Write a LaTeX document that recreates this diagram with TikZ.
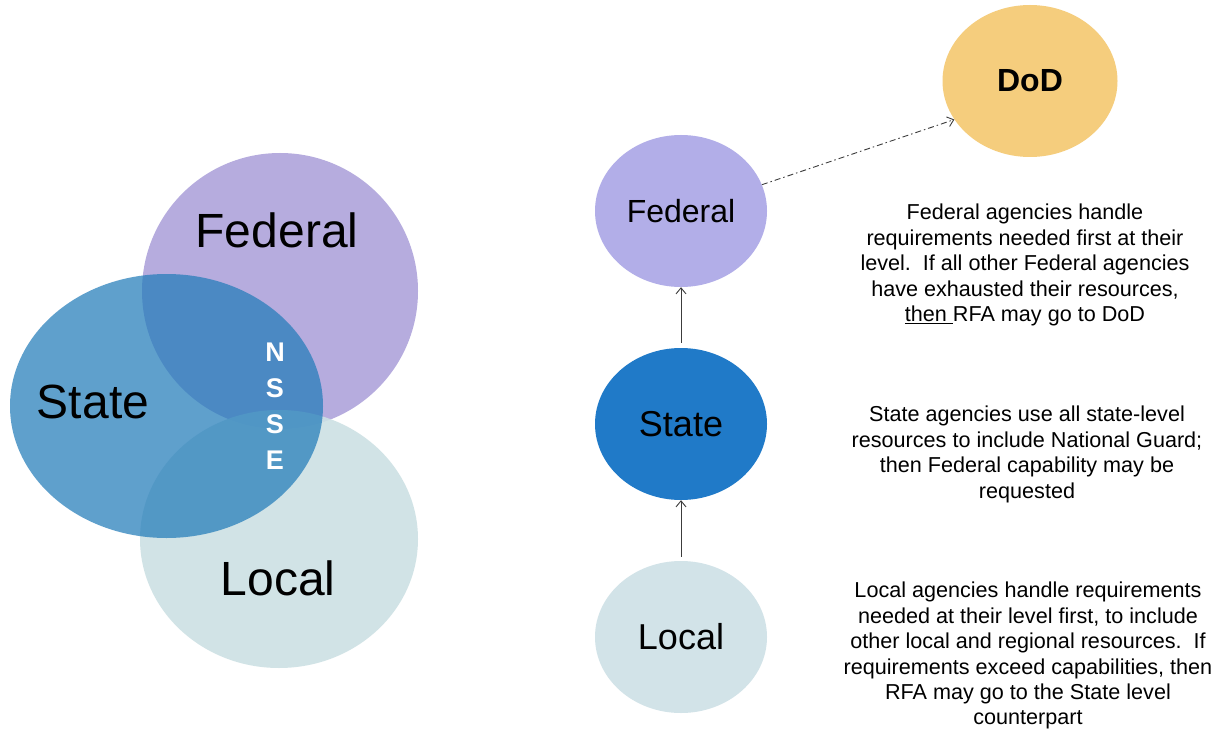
\documentclass[tikz,border=0pt]{standalone}
\usepackage{fontspec}
\setmainfont{Liberation Sans}
\usetikzlibrary{shapes.geometric,arrows.meta}
\definecolor{vfed}{RGB}{182,172,222}
\definecolor{vstate}{RGB}{36,125,186}
\definecolor{vlocal}{RGB}{205,225,228}
\definecolor{nfed}{RGB}{178,174,232}
\definecolor{nstate}{RGB}{32,122,200}
\definecolor{nlocal}{RGB}{210,227,232}
\definecolor{ndod}{RGB}{245,205,125}
\definecolor{arrowgray}{RGB}{60,60,60}
\tikzset{
  bubble/.style={ellipse, minimum width=172pt, minimum height=152pt, inner sep=0pt},
  venntext/.style={anchor=base, inner sep=0pt, font=\fontsize{48}{56}\selectfont},
  desc/.style={anchor=north, inner sep=0pt, align=center, font=\fontsize{21.6}{25.4}\selectfont},
  conn/.style={draw=arrowgray, line width=0.9pt, -{Straight Barb[length=6pt,width=10pt]}},
}
\begin{document}
\begin{tikzpicture}[x=1pt,y=-1pt]
\useasboundingbox (0,0) rectangle (1221,733);
\fill[white] (0,0) rectangle (1221,733);
% Venn diagram
\fill[vfed] (280,291) ellipse [x radius=138pt, y radius=138pt];
\fill[vlocal, opacity=0.9] (279,539) ellipse [x radius=139pt, y radius=129pt];
\fill[vstate, opacity=0.73] (166.5,406) ellipse [x radius=156.5pt, y radius=132pt];
\node[venntext] (vfedt) at (277,247) {Federal};
\node[venntext] (vstatet) at (93,418) {State};
\node[venntext] (vlocalt) at (278,595) {Local};
\node[inner sep=0pt, align=center, text=white, font=\bfseries\fontsize{27}{36}\selectfont] (nsse) at (275,406.4) {N\\S\\S\\E};
% Right-hand hierarchy
\node[bubble, fill=nfed, font=\fontsize{32}{38}\selectfont] (fed) at (681,211) {Federal};
\node[bubble, fill=nstate, font=\fontsize{36}{42}\selectfont] (state) at (681,424) {State};
\node[bubble, fill=nlocal, font=\fontsize{36}{42}\selectfont] (local) at (681,637) {Local};
\node[bubble, fill=ndod, minimum width=175pt, font=\bfseries\fontsize{32}{38}\selectfont] (dod) at (1030,81) {DoD};
\draw[conn, shorten <=5pt] (state.north) -- (fed.south);
\draw[conn, shorten <=4pt] (local.north) -- (state.south);
\draw[conn, dash pattern=on 6pt off 3pt on 1.5pt off 3pt] (fed.18) -- (dod.207);
% Descriptions
\node[desc] (tfed) at (1025,204) {Federal agencies handle\\requirements needed first at their\\level.\ \ If all other Federal agencies\\have exhausted their resources,\\\underline{then\ }RFA may go to DoD};
\node[desc] (tstate) at (1027,406) {State agencies use all state-level\\resources to include National Guard;\\then Federal capability may be\\requested};
\node[desc] (tlocal) at (1028,582) {Local agencies handle requirements\\needed at their level first, to include\\other local and regional resources.\ \ If\\requirements exceed capabilities, then\\RFA may go to the State level\\counterpart};
\end{tikzpicture}
\end{document}
